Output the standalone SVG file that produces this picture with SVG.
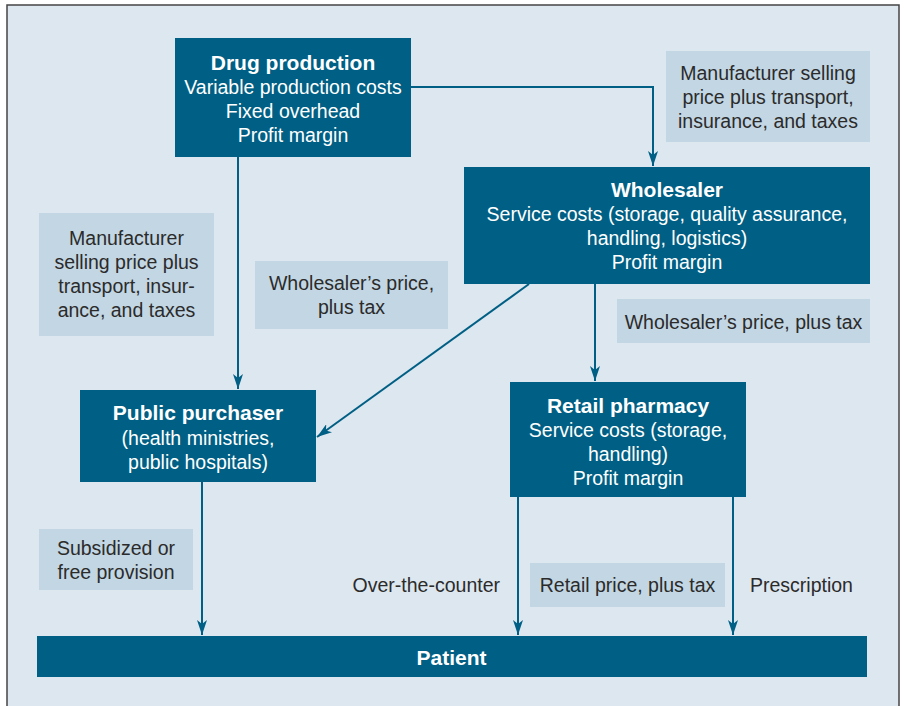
<svg xmlns="http://www.w3.org/2000/svg" width="904" height="706" viewBox="0 0 904 706">
<defs>
<style>
.bg{fill:#dde7f0;stroke:#444;stroke-width:1.5}
.node{fill:#005f84}
.lab{fill:#c3d6e3}
.t{font-family:"Liberation Sans",Arial,sans-serif;font-size:19.5px;text-anchor:middle}
.w{fill:#ffffff}
.d{fill:#2b2b2b}
.b{font-weight:bold;font-size:21px}
.c{fill:none;stroke:#005f84;stroke-width:2}
</style>
<marker id="ah" viewBox="0 0 15 10" refX="15" refY="5" markerWidth="15" markerHeight="10" markerUnits="userSpaceOnUse" orient="auto">
<path d="M0,0 L15,5 L0,10 L4,5 z" fill="#005f84"/>
</marker>
</defs>
<rect class="bg" x="7" y="5" width="892" height="710"/>

<g id="connectors">
<polyline class="c" points="411,87 653,87 653,166" marker-end="url(#ah)"/>
<line class="c" x1="238" y1="157" x2="238" y2="389" marker-end="url(#ah)"/>
<line class="c" x1="595" y1="284" x2="595" y2="381" marker-end="url(#ah)"/>
<line class="c" x1="529" y1="284" x2="317" y2="437" marker-end="url(#ah)"/>
<line class="c" x1="202" y1="482" x2="202" y2="635" marker-end="url(#ah)"/>
<line class="c" x1="518" y1="497" x2="518" y2="635" marker-end="url(#ah)"/>
<line class="c" x1="733" y1="497" x2="733" y2="635" marker-end="url(#ah)"/>
</g>

<g id="drug-production">
<rect class="node" x="175" y="38" width="236" height="119"/>
<text class="t w b" x="293" y="69.5">Drug production</text>
<text class="t w" x="293" y="94">Variable production costs</text>
<text class="t w" x="293" y="118">Fixed overhead</text>
<text class="t w" x="293" y="142">Profit margin</text>
</g>

<g id="label-manufacturer-top">
<rect class="lab" x="666" y="51" width="204" height="91"/>
<text class="t d" x="768" y="80">Manufacturer selling</text>
<text class="t d" x="768" y="104">price plus transport,</text>
<text class="t d" x="768" y="128">insurance, and taxes</text>
</g>

<g id="wholesaler">
<rect class="node" x="464" y="167" width="406" height="117"/>
<text class="t w b" x="667" y="196.5">Wholesaler</text>
<text class="t w" x="667" y="221">Service costs (storage, quality assurance,</text>
<text class="t w" x="667" y="245">handling, logistics)</text>
<text class="t w" x="667" y="269">Profit margin</text>
</g>

<g id="label-manufacturer-left">
<rect class="lab" x="39" y="213" width="175" height="123"/>
<text class="t d" x="126.5" y="245">Manufacturer</text>
<text class="t d" x="126.5" y="269">selling price plus</text>
<text class="t d" x="126.5" y="293">transport, insur-</text>
<text class="t d" x="126.5" y="317">ance, and taxes</text>
</g>

<g id="label-wholesaler-mid">
<rect class="lab" x="255" y="261" width="193" height="68"/>
<text class="t d" x="351.5" y="290">Wholesaler’s price,</text>
<text class="t d" x="351.5" y="314">plus tax</text>
</g>

<g id="label-wholesaler-right">
<rect class="lab" x="617" y="299" width="253" height="44"/>
<text class="t d" x="743.5" y="329">Wholesaler’s price, plus tax</text>
</g>

<g id="public-purchaser">
<rect class="node" x="80" y="390" width="236" height="92"/>
<text class="t w b" x="198" y="419.5">Public purchaser</text>
<text class="t w" x="198" y="445">(health ministries,</text>
<text class="t w" x="198" y="469">public hospitals)</text>
</g>

<g id="retail-pharmacy">
<rect class="node" x="510" y="382" width="236" height="115"/>
<text class="t w b" x="628" y="412.5">Retail pharmacy</text>
<text class="t w" x="628" y="437">Service costs (storage,</text>
<text class="t w" x="628" y="461">handling)</text>
<text class="t w" x="628" y="485">Profit margin</text>
</g>

<g id="label-subsidized">
<rect class="lab" x="39" y="529" width="154" height="61"/>
<text class="t d" x="116" y="555">Subsidized or</text>
<text class="t d" x="116" y="579">free provision</text>
</g>

<g id="label-retail-price">
<rect class="lab" x="530" y="563" width="195" height="44"/>
<text class="t d" x="627.5" y="592">Retail price, plus tax</text>
</g>

<g id="label-otc">
<text class="t d" x="500" y="592" style="text-anchor:end">Over-the-counter</text>
</g>

<g id="label-prescription">
<text class="t d" x="750" y="592" style="text-anchor:start">Prescription</text>
</g>

<g id="patient">
<rect class="node" x="37" y="636" width="830" height="41"/>
<text class="t w b" x="451.5" y="665">Patient</text>
</g>
</svg>
